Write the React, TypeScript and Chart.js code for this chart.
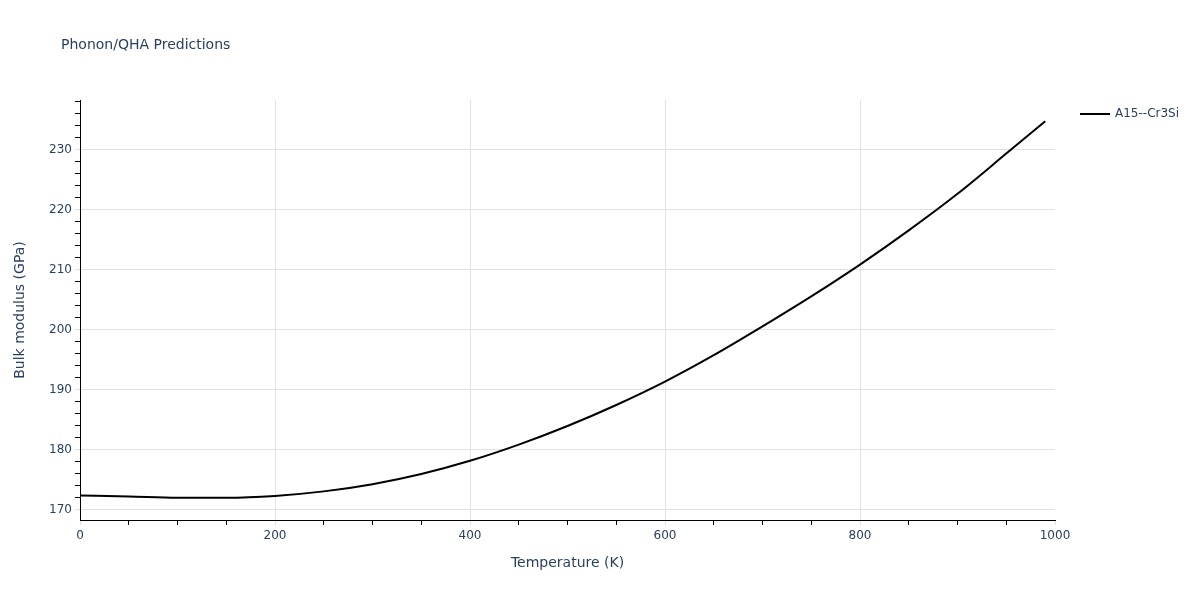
import React, { useEffect, useRef } from "react";
import { Chart, registerables } from "chart.js";

Chart.register(...registerables);

const temperatures = [0, 50, 100, 150, 200, 250, 300, 350, 400, 450, 500, 550, 600, 650, 700, 750, 800, 850, 900, 950, 990];
const bulkModulus = [172.4, 172.25, 172.05, 172.05, 172.35, 173.1, 174.3, 176.0, 178.2, 180.9, 184.0, 187.5, 191.4, 195.8, 200.6, 205.6, 210.9, 216.6, 222.7, 229.4, 234.8];
const seriesName = "A15--Cr3Si";
const chartTitle = "Phonon/QHA Predictions";
const xTitle = "Temperature (K)";
const yTitle = "Bulk modulus (GPa)";
const xMajorTicks = [0, 200, 400, 600, 800, 1000];
const xGridTicks = [200, 400, 600, 800];
const yMajorTicks = [170, 180, 190, 200, 210, 220, 230];

const FONT = "'DejaVu Sans', Verdana, sans-serif";
const TEXT = "#2a3f5f";
const GRID = "#e1e1e1";

export default function App() {
  const ref = useRef<HTMLCanvasElement | null>(null);
  useEffect(() => {
    document.body.style.margin = "0";
    const canvas = ref.current!;
    const overlay = {
      id: "overlay",
      afterDraw(chart: any) {
        const ctx = chart.ctx;
        ctx.save();
        ctx.fillStyle = TEXT;
        ctx.font = `14px ${FONT}`;
        ctx.textBaseline = "middle";
        ctx.textAlign = "left";
        ctx.fillText(chartTitle, 61, 45);
        // legend
        ctx.strokeStyle = "#000";
        ctx.lineWidth = 2;
        ctx.beginPath();
        ctx.moveTo(1080, 114);
        ctx.lineTo(1110, 114);
        ctx.stroke();
        ctx.font = `12px ${FONT}`;
        ctx.fillText(seriesName, 1115, 114);
        ctx.restore();
      },
    };
    const chart = new Chart(canvas, {
      type: "line",
      data: {
        datasets: [
          {
            label: seriesName,
            data: temperatures.map((t, i) => ({ x: t, y: bulkModulus[i] })),
            borderColor: "#000",
            borderWidth: 2,
            pointRadius: 0,
            cubicInterpolationMode: "monotone",
            fill: false,
          },
        ],
      },
      options: {
        animation: false,
        responsive: false,
        layout: { padding: { left: 0, right: 145, top: 100, bottom: 0 } },
        plugins: { legend: { display: false }, tooltip: { enabled: false }, title: { display: false } },
        scales: {
          x: {
            type: "linear",
            min: 0,
            max: 1000,
            afterBuildTicks: (s: any) => {
              const t = [];
              for (let v = 0; v <= 1000; v += 50) t.push({ value: v });
              s.ticks = t;
            },
            afterFit: (s: any) => {
              s.height = 80;
            },
            border: { color: "#000", width: 1 },
            grid: {
              color: (c: any) => (c.tick && xGridTicks.includes(c.tick.value) ? GRID : "rgba(0,0,0,0)"),
              tickColor: (c: any) => (c.tick && xMajorTicks.includes(c.tick.value) ? GRID : "#000"),
              tickLength: 5,
              lineWidth: 1,
            },
            ticks: {
              autoSkip: false,
              maxRotation: 0,
              padding: 4,
              color: TEXT,
              font: { family: FONT, size: 12 },
              callback: (v: any) => (xMajorTicks.includes(v) ? String(v) : ""),
            },
            title: { display: true, text: xTitle, color: TEXT, font: { family: FONT, size: 14 }, padding: { top: 0, bottom: 28 } },
          },
          y: {
            type: "linear",
            min: 168.33,
            max: 238.33,
            afterBuildTicks: (s: any) => {
              const t = [];
              for (let v = 170; v <= 238; v += 2) t.push({ value: v });
              s.ticks = t;
            },
            afterFit: (s: any) => {
              s.width = 80;
            },
            border: { color: "#000", width: 1 },
            grid: {
              color: (c: any) => (c.tick && yMajorTicks.includes(c.tick.value) ? GRID : "rgba(0,0,0,0)"),
              tickColor: (c: any) => (c.tick && yMajorTicks.includes(c.tick.value) ? GRID : "#000"),
              tickLength: 5,
              lineWidth: 1,
            },
            ticks: {
              autoSkip: false,
              padding: 3,
              color: TEXT,
              font: { family: FONT, size: 12 },
              callback: (v: any) => (yMajorTicks.includes(v) ? String(v) : ""),
            },
            title: { display: true, text: yTitle, color: TEXT, font: { family: FONT, size: 14 }, padding: { top: 12, bottom: 0 } },
          },
        },
      },
      plugins: [overlay],
    } as any);
    return () => chart.destroy();
  }, []);
  return (
    <div style={{ width: 1200, height: 600, background: "#fff" }}>
      <canvas ref={ref} width={1200} height={600} style={{ width: 1200, height: 600, display: "block" }} />
    </div>
  );
}
